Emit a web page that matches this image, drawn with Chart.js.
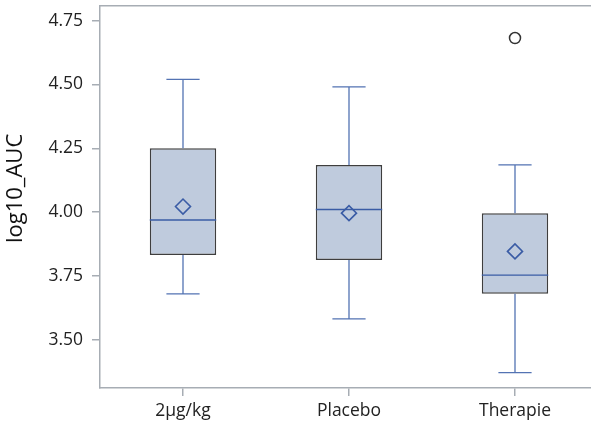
<!DOCTYPE html>
<html>
<head>
<meta charset="utf-8">
<script src="https://cdn.jsdelivr.net/npm/chart.js@4"></script>
<style>
  html, body { margin: 0; padding: 0; background: #fff; overflow: hidden; }
  #wrap { width: 591px; height: 430px; overflow: hidden; }
</style>
</head>
<body>
<div id="wrap"><canvas id="box-chart" width="600" height="430"></canvas></div>
<script>
// ---------------------------- Box Plot Data ------------------------------------------ //
const groups = [ "2\u00b5g/kg", "Placebo", "Therapie" ];
const whisker_low = [ 3.68, 3.582, 3.371 ];
const q1 = [ 3.832, 3.8125, 3.68 ];
const median = [ 3.969, 4.0105, 3.753 ];
const q3 = [ 4.25, 4.185, 3.996 ];
const whisker_high = [ 4.52, 4.491, 4.185 ];
const means = [ 4.022, 3.996, 3.846 ];
const outliers = [ null, null, 4.682 ];
const y_ticks = [ 3.50, 3.75, 4.00, 4.25, 4.50, 4.75 ];

const box_fill = '#BFCBDD';
const box_edge = '#3e3e3e';
const whisker_color = '#5373B3';
const median_color = '#3A5CA5';
const axis_color = '#A7ADB4';
const font_family = "'Open Sans', 'DejaVu Sans', sans-serif";

// whiskers + median line drawn from the arrays through the scales
const whisker_plugin = {
    id: 'whiskers',
    afterDatasetDraw( chart, args ) {
        if ( args.index !== 0 ) return;
        const ctx = chart.ctx;
        const x_scale = chart.scales.x;
        const y_scale = chart.scales.y;
        const bars = args.meta.data;
        ctx.save();
        for ( let i = 0; i < groups.length; i++ ) {
            const cx = x_scale.getPixelForValue( i );
            const half_box = bars[ i ].width / 2;
            const half_cap = half_box / 2;
            const y_lo = y_scale.getPixelForValue( whisker_low[ i ] );
            const y_q1 = y_scale.getPixelForValue( q1[ i ] );
            const y_q3 = y_scale.getPixelForValue( q3[ i ] );
            const y_hi = y_scale.getPixelForValue( whisker_high[ i ] );
            const y_md = y_scale.getPixelForValue( median[ i ] );

            ctx.strokeStyle = whisker_color;
            ctx.lineWidth = 1.3;
            ctx.beginPath();
            ctx.moveTo( cx, y_q3 ); ctx.lineTo( cx, y_hi );
            ctx.moveTo( cx - half_cap, y_hi ); ctx.lineTo( cx + half_cap, y_hi );
            ctx.moveTo( cx, y_q1 ); ctx.lineTo( cx, y_lo );
            ctx.moveTo( cx - half_cap, y_lo ); ctx.lineTo( cx + half_cap, y_lo );
            ctx.stroke();

            ctx.strokeStyle = median_color;
            ctx.lineWidth = 1.4;
            ctx.beginPath();
            ctx.moveTo( cx - half_box, y_md ); ctx.lineTo( cx + half_box, y_md );
            ctx.stroke();
        }
        ctx.restore();
    }
};

const box_data = {
    labels: groups,
    datasets: [
    {
        type: 'bar',
        label: 'box',
        data: groups.map( ( g, i ) => [ q1[ i ], q3[ i ] ] ),
        backgroundColor: box_fill,
        borderColor: box_edge,
        borderWidth: 1.5,
        borderSkipped: false,
        barPercentage: 0.5,
        categoryPercentage: 0.8,
        order: 2
    },
    {
        type: 'line',
        label: 'mean',
        data: means,
        showLine: false,
        pointStyle: 'rectRot',
        pointRadius: 7.5,
        pointBorderWidth: 1.6,
        pointBorderColor: median_color,
        pointBackgroundColor: 'rgba(0,0,0,0)',
        order: 1
    },
    {
        type: 'line',
        label: 'outlier',
        data: outliers,
        showLine: false,
        pointStyle: 'circle',
        pointRadius: 5.5,
        pointBorderWidth: 1.5,
        pointBorderColor: '#333333',
        pointBackgroundColor: '#ffffff',
        order: 1
    } ]
};

const box_options = {
    responsive: false,
    animation: false,
    // the plot frame runs a few px past the right edge of the picture, like the original
    layout: { autoPadding: false, padding: { left: 0, right: 2, top: 0, bottom: 0 } },
    plugins: {
        legend: { display: false },
        tooltip: { enabled: false }
    },
    scales: {
        x: {
            type: 'category',
            offset: true,
            grid: { offset: false, drawOnChartArea: false, drawTicks: true, tickLength: 8, color: axis_color, lineWidth: 1.5 },
            border: { color: axis_color, width: 1.5 },
            ticks: { color: '#222', padding: 5, font: { family: font_family, size: 17.5 } },
            afterFit: s => { s.height = 42; s.paddingLeft = 0; s.paddingRight = 0; }
        },
        x2: {
            type: 'category',
            position: 'top',
            labels: groups,
            grid: { display: false },
            border: { color: axis_color, width: 1.5 },
            ticks: { display: false },
            afterFit: s => { s.height = 6; s.paddingLeft = 0; s.paddingRight = 0; }
        },
        y: {
            min: 3.311,
            max: 4.8075,
            afterBuildTicks: s => { s.ticks = y_ticks.map( v => ( { value: v } ) ); },
            grid: { drawOnChartArea: false, drawTicks: true, tickLength: 8, color: axis_color, lineWidth: 1.5 },
            border: { color: axis_color, width: 1.5 },
            ticks: {
                color: '#222',
                padding: 9,
                font: { family: font_family, size: 17.5 },
                callback: v => Number( v ).toFixed( 2 )
            },
            title: {
                display: true,
                text: '   log10_AUC',
                color: '#111',
                padding: { top: 3, bottom: 0 },
                font: { family: font_family, size: 22 }
            },
            afterFit: s => { s.width = 100; s.paddingTop = 0; s.paddingBottom = 0; }
        }
    }
};

// ---------------------------- Create Chart ------------------------------------------ //
const box_chart = new Chart( document.getElementById( "box-chart" ),
{
    data: box_data,
    options: box_options,
    plugins: [ whisker_plugin ]
} );
</script>
</body>
</html>
